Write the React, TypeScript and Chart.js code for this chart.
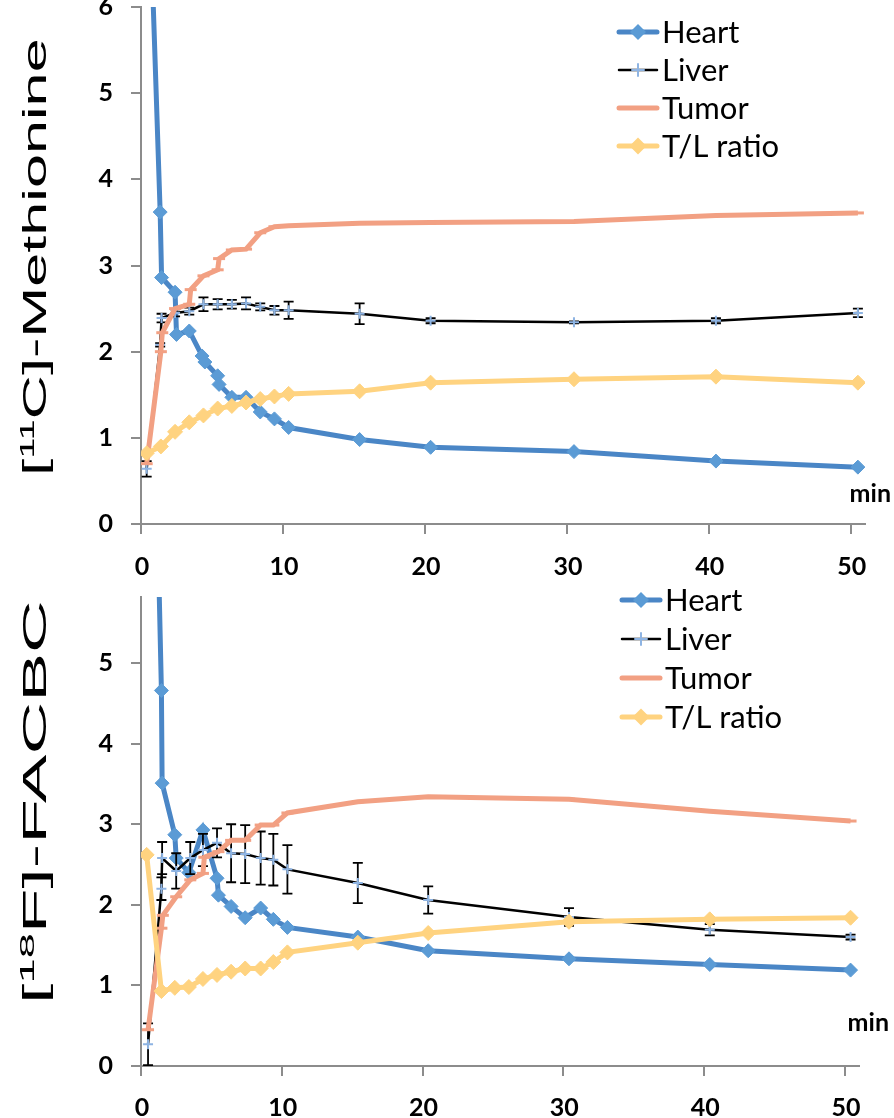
import React, { useEffect, useRef } from "react";
import { Chart, registerables } from "chart.js";

Chart.register(...registerables);

// ---------- shared axis ticks ----------
const xTickValues = [0, 10, 20, 30, 40, 50];
const metYTicks = [0, 1, 2, 3, 4, 5, 6];
const facYTicks = [0, 1, 2, 3, 4, 5];
const seriesLabels = ["Heart", "Liver", "Tumor", "T/L ratio"];

// ---------- [11C]-Methionine ----------
const metHeartX = [0.4, 1.35, 1.45, 2.4, 2.5, 3.4, 4.3, 4.5, 5.4, 5.5, 6.4, 7.4, 8.4, 9.4, 10.4, 15.4, 20.4, 30.5, 40.5, 50.5];
const metHeartY = [8.3, 3.62, 2.86, 2.69, 2.2, 2.24, 1.95, 1.88, 1.72, 1.62, 1.47, 1.47, 1.3, 1.22, 1.12, 0.98, 0.89, 0.84, 0.73, 0.66];
const metLiverX = [0.4, 1.35, 1.45, 2.4, 3.4, 4.4, 5.4, 6.4, 7.4, 8.4, 9.4, 10.4, 15.4, 20.4, 30.5, 40.5, 50.5];
const metLiverY = [0.64, 2.08, 2.39, 2.45, 2.47, 2.55, 2.55, 2.55, 2.56, 2.52, 2.48, 2.48, 2.44, 2.36, 2.34, 2.36, 2.45];
const metLiverErr = [0.09, 0.02, 0.05, 0.04, 0.04, 0.08, 0.06, 0.05, 0.07, 0.04, 0.05, 0.1, 0.12, 0.03, 0.01, 0.03, 0.05];
const metTumorX = [0.4, 1.4, 1.5, 2.4, 3.4, 3.5, 4.4, 5.4, 5.5, 6.4, 7.4, 8.4, 9.4, 10.4, 15.4, 20.4, 30.5, 40.5, 50.5];
const metTumorY = [0.7, 2.0, 2.22, 2.5, 2.55, 2.72, 2.88, 2.95, 3.08, 3.18, 3.19, 3.38, 3.45, 3.46, 3.49, 3.5, 3.51, 3.58, 3.61];
const metRatioX = [0.4, 1.4, 2.4, 3.4, 4.4, 5.4, 6.4, 7.4, 8.4, 9.4, 10.4, 15.4, 20.4, 30.5, 40.5, 50.5];
const metRatioY = [0.82, 0.9, 1.07, 1.18, 1.26, 1.34, 1.37, 1.41, 1.45, 1.48, 1.51, 1.54, 1.64, 1.68, 1.71, 1.64];

// ---------- [18F]-FACBC ----------
const facHeartX = [0.5, 1.45, 1.5, 2.4, 2.5, 3.4, 4.4, 5.4, 5.5, 6.4, 7.4, 8.5, 9.4, 10.4, 15.4, 20.4, 30.4, 40.4, 50.4];
const facHeartY = [12, 4.66, 3.51, 2.87, 2.58, 2.4, 2.93, 2.33, 2.12, 1.98, 1.84, 1.96, 1.82, 1.72, 1.6, 1.43, 1.33, 1.26, 1.19];
const facLiverX = [0.5, 1.45, 1.5, 2.5, 3.5, 4.4, 5.4, 6.4, 7.4, 8.5, 9.4, 10.4, 15.4, 20.4, 30.4, 40.4, 50.4];
const facLiverY = [0.27, 2.2, 2.58, 2.42, 2.58, 2.68, 2.77, 2.64, 2.63, 2.58, 2.56, 2.44, 2.27, 2.06, 1.85, 1.69, 1.6];
const facLiverErr = [0.26, 0.14, 0.2, 0.22, 0.2, 0.2, 0.18, 0.36, 0.36, 0.33, 0.32, 0.3, 0.25, 0.17, 0.11, 0.07, 0.03];
const facTumorX = [0.5, 1.45, 1.55, 2.5, 3.5, 4.4, 4.5, 5.5, 6.4, 7.4, 8.5, 9.4, 10.4, 15.4, 20.4, 30.4, 40.4, 50.4];
const facTumorY = [0.45, 1.71, 1.87, 2.1, 2.31, 2.39, 2.59, 2.66, 2.8, 2.8, 2.99, 2.99, 3.14, 3.28, 3.34, 3.31, 3.16, 3.04];
const facRatioX = [0.4, 1.45, 2.4, 3.4, 4.4, 5.4, 6.4, 7.4, 8.5, 9.4, 10.4, 15.4, 20.4, 30.4, 40.4, 50.4];
const facRatioY = [2.62, 0.93, 0.97, 0.98, 1.08, 1.13, 1.17, 1.21, 1.21, 1.29, 1.41, 1.53, 1.65, 1.79, 1.82, 1.84];

// ---------- styles ----------
const AXIS = "#8c8c8c";
const TICK_FONT = { family: "Lato, 'Open Sans', sans-serif", size: 25, weight: "bold" as const };
const TICK_FONT_CSS = "bold 25px Lato, 'Open Sans', sans-serif";
const LEGEND_FONT = "31px Lato, 'Open Sans', sans-serif";

type Style = { line: string; width: number; marker: string; point: string; radius: number; pw: number; order: number };
const STYLES: Style[] = [
  { line: "#4a86c6", width: 5, marker: "#5b9bd5", point: "rectRot", radius: 7, pw: 1, order: 3 },
  { line: "#000000", width: 2.5, marker: "#8eb4e3", point: "cross", radius: 5, pw: 2, order: 2 },
  { line: "#f2a083", width: 5, marker: "#f2a083", point: "line", radius: 6, pw: 3, order: 1 },
  { line: "#ffd380", width: 5, marker: "#ffd380", point: "rectRot", radius: 7.5, pw: 1, order: 0 },
];

type Series = { x: number[]; y: number[]; err?: number[] };

function toPoints(xs: number[], ys: number[]) {
  return xs.map((x, i) => ({ x, y: ys[i] }));
}

function drawMarker(ctx: CanvasRenderingContext2D, st: Style, x: number, y: number, r: number) {
  ctx.save();
  ctx.fillStyle = st.marker;
  ctx.strokeStyle = st.marker;
  if (st.point === "rectRot") {
    ctx.beginPath();
    ctx.moveTo(x, y - r);
    ctx.lineTo(x + r, y);
    ctx.lineTo(x, y + r);
    ctx.lineTo(x - r, y);
    ctx.closePath();
    ctx.fill();
  } else if (st.point === "cross") {
    ctx.lineWidth = 2;
    ctx.beginPath();
    ctx.moveTo(x - r, y);
    ctx.lineTo(x + r, y);
    ctx.moveTo(x, y - r);
    ctx.lineTo(x, y + r);
    ctx.stroke();
  }
  ctx.restore();
}

const overlayPlugin = {
  id: "panelOverlay",
  beforeDatasetDraw(chart: any, args: any) {
    const ds = chart.data.datasets[args.index];
    if (!ds.errors) return;
    const ctx: CanvasRenderingContext2D = chart.ctx;
    const xs = chart.scales.x;
    const ys = chart.scales.y;
    ctx.save();
    ctx.strokeStyle = "#000";
    ctx.lineWidth = 1.8;
    ds.data.forEach((p: any, i: number) => {
      const e = ds.errors[i];
      const px = xs.getPixelForValue(p.x);
      const y1 = ys.getPixelForValue(p.y + e);
      const y2 = ys.getPixelForValue(p.y - e);
      ctx.beginPath();
      ctx.moveTo(px, y1);
      ctx.lineTo(px, y2);
      ctx.moveTo(px - 5, y1);
      ctx.lineTo(px + 5, y1);
      ctx.moveTo(px - 5, y2);
      ctx.lineTo(px + 5, y2);
      ctx.stroke();
    });
    ctx.restore();
  },
  afterDraw(chart: any) {
    const o = chart.options.plugins.panelOverlay;
    const ctx: CanvasRenderingContext2D = chart.ctx;
    const xs = chart.scales.x;
    ctx.save();
    // x tick labels
    ctx.font = TICK_FONT_CSS;
    ctx.fillStyle = "#000";
    ctx.textAlign = "center";
    ctx.textBaseline = "middle";
    xTickValues.forEach((v) => {
      ctx.fillText(String(v), xs.getPixelForValue(v) + 1, chart.chartArea.bottom + o.xLabelOffset);
    });
    // legend
    seriesLabels.forEach((label, i) => {
      const st = STYLES[i];
      const y = o.legendY + i * o.legendDy;
      ctx.strokeStyle = st.line;
      ctx.lineWidth = st.width;
      ctx.lineCap = "round";
      ctx.beginPath();
      ctx.moveTo(o.legendX0, y);
      ctx.lineTo(o.legendX1, y);
      ctx.stroke();
      if (st.point !== "line") drawMarker(ctx, st, (o.legendX0 + o.legendX1) / 2, y, st.radius + 1);
      ctx.fillStyle = "#000";
      ctx.font = LEGEND_FONT;
      ctx.textAlign = "left";
      ctx.textBaseline = "middle";
      ctx.fillText(label, o.legendTextX, y + 1);
    });
    // axis unit
    ctx.font = TICK_FONT_CSS;
    ctx.textAlign = "right";
    ctx.textBaseline = "middle";
    ctx.fillStyle = "#000";
    ctx.fillText("min", o.minX, o.minY);
    ctx.restore();
  },
};

type PanelProps = {
  top: number;
  height: number;
  series: Series[];
  yMax: number;
  yTicks: number[];
  areaTop: number;
  areaBottom: number;
  areaRight: number;
  xLabelOffset: number;
  legendX0: number;
  legendX1: number;
  legendTextX: number;
  legendY: number;
  legendDy: number;
  minX: number;
  minY: number;
};

function Panel(p: PanelProps) {
  const ref = useRef<HTMLCanvasElement>(null);
  useEffect(() => {
    const datasets = p.series.map((s, i) => {
      const st = STYLES[i];
      return {
        label: seriesLabels[i],
        data: toPoints(s.x, s.y),
        errors: s.err,
        borderColor: st.line,
        borderWidth: st.width,
        backgroundColor: st.marker,
        pointStyle: st.point,
        pointRadius: st.radius,
        pointBorderColor: st.marker,
        pointBackgroundColor: st.marker,
        pointBorderWidth: st.pw,
        tension: 0,
        fill: false,
        order: st.order,
      } as any;
    });
    const chart = new Chart(ref.current as HTMLCanvasElement, {
      type: "line",
      data: { datasets },
      options: {
        responsive: false,
        animation: false,
        events: [],
        layout: { autoPadding: false, padding: { left: 0, right: 894 - p.areaRight, top: p.areaTop, bottom: 0 } },
        plugins: {
          legend: { display: false },
          tooltip: { enabled: false },
          panelOverlay: {
            xLabelOffset: p.xLabelOffset,
            legendX0: p.legendX0,
            legendX1: p.legendX1,
            legendTextX: p.legendTextX,
            legendY: p.legendY,
            legendDy: p.legendDy,
            minX: p.minX,
            minY: p.minY,
          },
        } as any,
        scales: {
          x: {
            type: "linear",
            min: 0,
            max: 51,
            afterBuildTicks: (s: any) => {
              s.ticks = xTickValues.map((v) => ({ value: v }));
            },
            afterFit: (s: any) => {
              s.height = p.height - p.areaBottom;
              s.paddingLeft = 0;
              s.paddingRight = 0;
              s.paddingTop = 0;
              s.paddingBottom = 0;
            },
            grid: { drawOnChartArea: false, drawTicks: true, tickLength: 10, color: AXIS, lineWidth: 2 },
            border: { display: true, color: AXIS, width: 2 },
            ticks: { display: false },
          },
          y: {
            type: "linear",
            min: 0,
            max: p.yMax,
            afterBuildTicks: (s: any) => {
              s.ticks = p.yTicks.map((v) => ({ value: v }));
            },
            afterFit: (s: any) => {
              s.width = 141;
              s.paddingLeft = 0;
              s.paddingRight = 0;
              s.paddingTop = 0;
              s.paddingBottom = 0;
            },
            grid: { drawOnChartArea: false, drawTicks: true, tickLength: 10, color: AXIS, lineWidth: 2 },
            border: { display: true, color: AXIS, width: 2 },
            ticks: { font: TICK_FONT, color: "#000", padding: 18, autoSkip: false },
          },
        },
      },
      plugins: [overlayPlugin as any],
    });
    return () => chart.destroy();
  }, []);
  return (
    <canvas
      ref={ref}
      width={894}
      height={p.height}
      style={{ position: "absolute", left: 0, top: p.top, width: 894, height: p.height }}
    />
  );
}

function YTitle(props: { cx: number; cy: number; stretch: number; sup: string; pre: string; post: string }) {
  return (
    <div
      style={{
        position: "absolute",
        left: props.cx,
        top: props.cy,
        transform: `translate(-50%, -50%) rotate(-90deg) scaleX(${props.stretch})`,
        whiteSpace: "nowrap",
        fontFamily: "'Liberation Sans', Arial, sans-serif",
        fontSize: 34,
        lineHeight: "34px",
        color: "#000",
      }}
    >
      {props.pre}
      <span style={{ fontSize: "0.62em", position: "relative", top: "-0.55em" }}>{props.sup}</span>
      {props.post}
    </div>
  );
}

export default function App() {
  const metSeries: Series[] = [
    { x: metHeartX, y: metHeartY },
    { x: metLiverX, y: metLiverY, err: metLiverErr },
    { x: metTumorX, y: metTumorY },
    { x: metRatioX, y: metRatioY },
  ];
  const facSeries: Series[] = [
    { x: facHeartX, y: facHeartY },
    { x: facLiverX, y: facLiverY, err: facLiverErr },
    { x: facTumorX, y: facTumorY },
    { x: facRatioX, y: facRatioY },
  ];
  return (
    <div style={{ position: "absolute", left: 0, top: 0, width: 894, height: 1118, background: "#fff", overflow: "hidden" }}>
      <Panel
        top={0}
        height={580}
        series={metSeries}
        yMax={6}
        yTicks={metYTicks}
        areaTop={7}
        areaBottom={524}
        areaRight={865}
        xLabelOffset={43}
        legendX0={619}
        legendX1={657}
        legendTextX={662}
        legendY={32}
        legendDy={38}
        minX={891}
        minY={494}
      />
      <Panel
        top={580}
        height={538}
        series={facSeries}
        yMax={5.82}
        yTicks={facYTicks}
        areaTop={17}
        areaBottom={486}
        areaRight={859}
        xLabelOffset={42}
        legendX0={622}
        legendX1={660}
        legendTextX={665}
        legendY={20}
        legendDy={39}
        minX={889}
        minY={443}
      />
      <YTitle cx={36} cy={257} stretch={1.8} pre="[" sup="11" post="C]-Methionine" />
      <YTitle cx={36} cy={802} stretch={2.15} pre="[" sup="18" post="F]-FACBC" />
    </div>
  );
}
